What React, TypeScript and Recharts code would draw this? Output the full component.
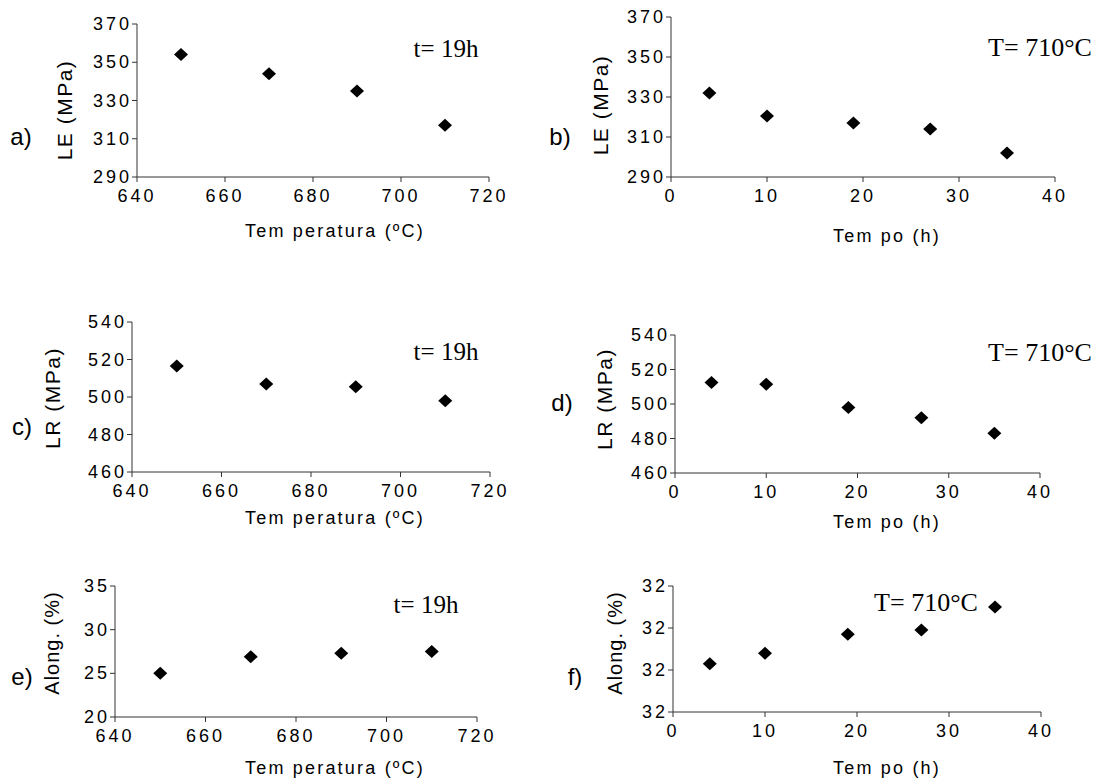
import { ScatterChart, Scatter, XAxis, YAxis } from 'recharts';

// panel a / c / e: temperature series at t = 19h
const temperatures = [650, 670, 690, 710];
const leByTemp = [354, 344, 335, 317];
const lrByTemp = [516.5, 507, 505.5, 498];
const alongByTemp = [25, 26.9, 27.3, 27.5];

// panel b / d / f: time series at T = 710°C
const times = [4, 10, 19, 27, 35];
const leByTime = [332, 320.5, 317, 314, 302];
const lrByTime = [512.5, 511.5, 498, 492, 483];
const alongByTime = [31.93, 31.98, 32.07, 32.09, 32.2];

const tempTicks = [640, 660, 680, 700, 720];
const timeTicks = [0, 10, 20, 30, 40];
const leTicks = [290, 310, 330, 350, 370];
const lrTicks = [460, 480, 500, 520, 540];
const alongTempTicks = [20, 25, 30, 35];
const alongTimeTicks = [31.7, 31.9, 32.1, 32.3];

const W = 1100;
const H = 781;
const AXIS_W = 60;
const AXIS_H = 30;

const sans = 'Arial, "Liberation Sans", sans-serif';
const serif = '"Times New Roman", "Liberation Serif", serif';

const Diamond = (props: any) => {
  const { cx, cy } = props;
  if (cx == null || cy == null) return null;
  return <polygon points={`${cx - 7},${cy} ${cx},${cy - 6.5} ${cx + 7},${cy} ${cx},${cy + 6.5}`} fill="#000" />;
};

const toPoints = (xs: number[], ys: number[]) => xs.map((x, i) => ({ x, y: ys[i] }));

// spaced-out tick text, like the original export
const XTick = ({ x, y, payload }: any) => (
  <text x={x} y={y} dy={18} textAnchor="middle" fill="#000" fontSize={18} fontFamily={sans} style={{ letterSpacing: '3px' }}>
    {payload.value}
  </text>
);

const makeYTick = (fmt?: (v: number) => string) => ({ x, y, payload }: any) => (
  <text x={x} y={y} dy={6} textAnchor="end" fill="#000" fontSize={18} fontFamily={sans} style={{ letterSpacing: '3px' }}>
    {fmt ? fmt(payload.value) : payload.value}
  </text>
);

interface PanelProps {
  box: [number, number, number, number]; // plot area x0, y0, x1, y1 in page px
  xs: number[];
  ys: number[];
  xTicks: number[];
  yTicks: number[];
  yFormat?: (v: number) => string;
}

function Panel({ box, xs, ys, xTicks, yTicks, yFormat }: PanelProps) {
  const [x0, y0, x1, y1] = box;
  return (
    <div style={{ position: 'absolute', left: 0, top: 0 }}>
      <ScatterChart
        width={W}
        height={H}
        margin={{ left: x0 - AXIS_W, top: y0, right: W - x1, bottom: H - y1 - AXIS_H }}
      >
        <XAxis
          type="number"
          dataKey="x"
          domain={[xTicks[0], xTicks[xTicks.length - 1]]}
          ticks={xTicks}
          height={AXIS_H}
          tick={<XTick />}
          tickSize={5}
          tickMargin={2}
          stroke="#333"
          interval={0}
        />
        <YAxis
          type="number"
          dataKey="y"
          domain={[yTicks[0], yTicks[yTicks.length - 1]]}
          ticks={yTicks}
          width={AXIS_W}
          tick={makeYTick(yFormat)}
          tickSize={5}
          tickMargin={0}
          stroke="#333"
          interval={0}
        />
        <Scatter data={toPoints(xs, ys)} shape={Diamond} isAnimationActive={false} />
      </ScatterChart>
    </div>
  );
}

const Txt = ({ x, y, children, size = 17, font = sans, rotate = false, spacing = 0 }: any) => (
  <div
    style={{
      position: 'absolute',
      left: x,
      top: y,
      transform: `translate(-50%, -50%)${rotate ? ' rotate(-90deg)' : ''}`,
      fontFamily: font,
      fontSize: size,
      letterSpacing: spacing,
      lineHeight: 1,
      whiteSpace: 'nowrap',
      color: '#000',
    }}
  >
    {children}
  </div>
);

export default function App() {
  const round = (v: number) => Math.round(v).toString();
  return (
    <div style={{ position: 'absolute', left: 0, top: 0, width: W, height: H, background: '#fff', overflow: 'hidden' }}>
      <Panel box={[137, 24, 489, 177]} xs={temperatures} ys={leByTemp} xTicks={tempTicks} yTicks={leTicks} />
      <Panel box={[671, 17, 1055, 177]} xs={times} ys={leByTime} xTicks={timeTicks} yTicks={leTicks} />
      <Panel box={[132, 322, 490, 472]} xs={temperatures} ys={lrByTemp} xTicks={tempTicks} yTicks={lrTicks} />
      <Panel box={[675, 335, 1040, 473]} xs={times} ys={lrByTime} xTicks={timeTicks} yTicks={lrTicks} />
      <Panel box={[115, 586, 477, 717]} xs={temperatures} ys={alongByTemp} xTicks={tempTicks} yTicks={alongTempTicks} />
      <Panel box={[673, 586, 1041, 712]} xs={times} ys={alongByTime} xTicks={timeTicks} yTicks={alongTimeTicks} yFormat={round} />

      <Txt x={21} y={137} size={24}>a)</Txt>
      <Txt x={560} y={137} size={24}>b)</Txt>
      <Txt x={22} y={427} size={24}>c)</Txt>
      <Txt x={562} y={403} size={24}>d)</Txt>
      <Txt x={22} y={677} size={24}>e)</Txt>
      <Txt x={575} y={677} size={24}>f)</Txt>

      <Txt x={64} y={110} size={21} spacing={1.5} rotate>LE (MPa)</Txt>
      <Txt x={600} y={105} size={21} spacing={1.5} rotate>LE (MPa)</Txt>
      <Txt x={52} y={398} size={21} spacing={1.5} rotate>LR (MPa)</Txt>
      <Txt x={604} y={399} size={21} spacing={1.5} rotate>LR (MPa)</Txt>
      <Txt x={52} y={643} size={20} spacing={1} rotate>Along. (%)</Txt>
      <Txt x={615} y={643} size={20} spacing={1} rotate>Along. (%)</Txt>

      <Txt x={335} y={231} size={18} spacing={2.2}>Tem peratura (ºC)</Txt>
      <Txt x={887} y={236} size={18} spacing={2.2}>Tem po (h)</Txt>
      <Txt x={335} y={518} size={18} spacing={2.2}>Tem peratura (ºC)</Txt>
      <Txt x={887} y={522} size={18} spacing={2.2}>Tem po (h)</Txt>
      <Txt x={335} y={768} size={18} spacing={2.2}>Tem peratura (ºC)</Txt>
      <Txt x={887} y={768} size={18} spacing={2.2}>Tem po (h)</Txt>

      <Txt x={446} y={48} size={25} font={serif}>t= 19h</Txt>
      <Txt x={1040} y={48} size={26} font={serif}>T= 710°C</Txt>
      <Txt x={446} y={351} size={25} font={serif}>t= 19h</Txt>
      <Txt x={1040} y={353} size={26} font={serif}>T= 710°C</Txt>
      <Txt x={426} y={604} size={25} font={serif}>t= 19h</Txt>
      <Txt x={926} y={603} size={26} font={serif}>T= 710°C</Txt>
    </div>
  );
}
